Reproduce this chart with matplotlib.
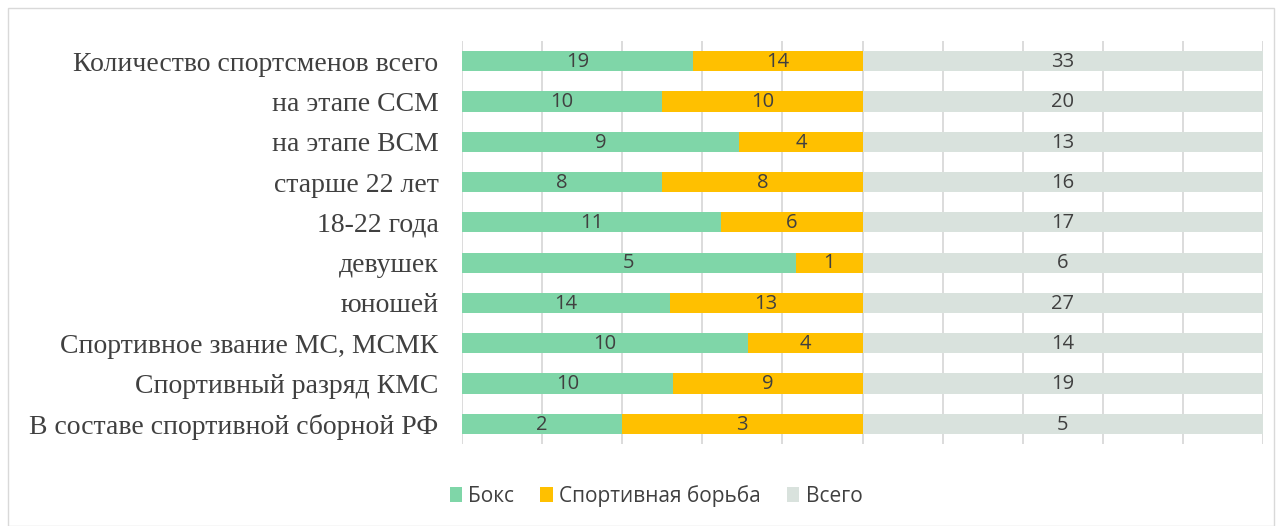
import matplotlib.pyplot as plt
from matplotlib.patches import Rectangle

categories = ["Количество спортсменов всего", "на этапе ССМ", "на этапе ВСМ",
              "старше 22 лет", "18-22 года", "девушек", "юношей",
              "Спортивное звание МС, МСМК", "Спортивный разряд КМС",
              "В составе спортивной сборной РФ"]
boxing = [19, 10, 9, 8, 11, 5, 14, 10, 10, 2]
wrestling = [14, 10, 4, 8, 6, 1, 13, 4, 9, 3]
total = [33, 20, 13, 16, 17, 6, 27, 14, 19, 5]
series_names = ["Бокс", "Спортивная борьба", "Всего"]
colors = ["#7FD6A8", "#FFC000", "#D9E2DD"]

fig = plt.figure(figsize=(12.82, 5.26), dpi=100)
W, H = 1282, 526
ax = fig.add_axes([462 / W, 1 - 444 / H, 801 / W, 403 / H])

n = len(categories)
ys = list(range(n))
series = [boxing, wrestling, total]
left = [0.0] * n
for vals, col, name in zip(series, colors, series_names):
    sums = [b + w + t for b, w, t in zip(boxing, wrestling, total)]
    frac = [v / s for v, s in zip(vals, sums)]
    ax.barh(ys, frac, left=left, height=0.5, color=col, label=name, zorder=2)
    for y, l, f, v in zip(ys, left, frac, vals):
        ax.text(l + f / 2, y + 0.02, str(v), ha="center", va="center",
                fontsize=14.5, color="#404040", family="Open Sans", zorder=3)
    left = [l + f for l, f in zip(left, frac)]

ax.set_xlim(0, 1)
ax.set_ylim(n - 0.5, -0.5)
ax.set_xticks([i / 10 for i in range(11)])
ax.set_xticklabels([])
ax.tick_params(axis="x", length=0)
ax.tick_params(axis="y", length=0, pad=17)
ax.grid(axis="x", color="#D9D9D9", linewidth=1.3, zorder=0)
ax.set_yticks(ys)
ax.set_yticklabels(categories, family="Liberation Serif", fontsize=20, color="#404040")
for s in ax.spines.values():
    s.set_visible(False)

leg = fig.legend(loc="center", bbox_to_anchor=(656 / W, 1 - 496 / H), ncol=3,
                 frameon=False, prop={"family": "Open Sans", "size": 15},
                 handlelength=0.6, handleheight=0.7, handletextpad=0.3, columnspacing=1.25)
for t in leg.get_texts():
    t.set_color("#404040")

fig.patches.append(Rectangle((8 / W, 0.0), 1266 / W, 1 - 8 / H, transform=fig.transFigure,
                             fill=False, edgecolor="#D9D9D9", linewidth=1))
fig.savefig("out.png", dpi=100, facecolor="white")
